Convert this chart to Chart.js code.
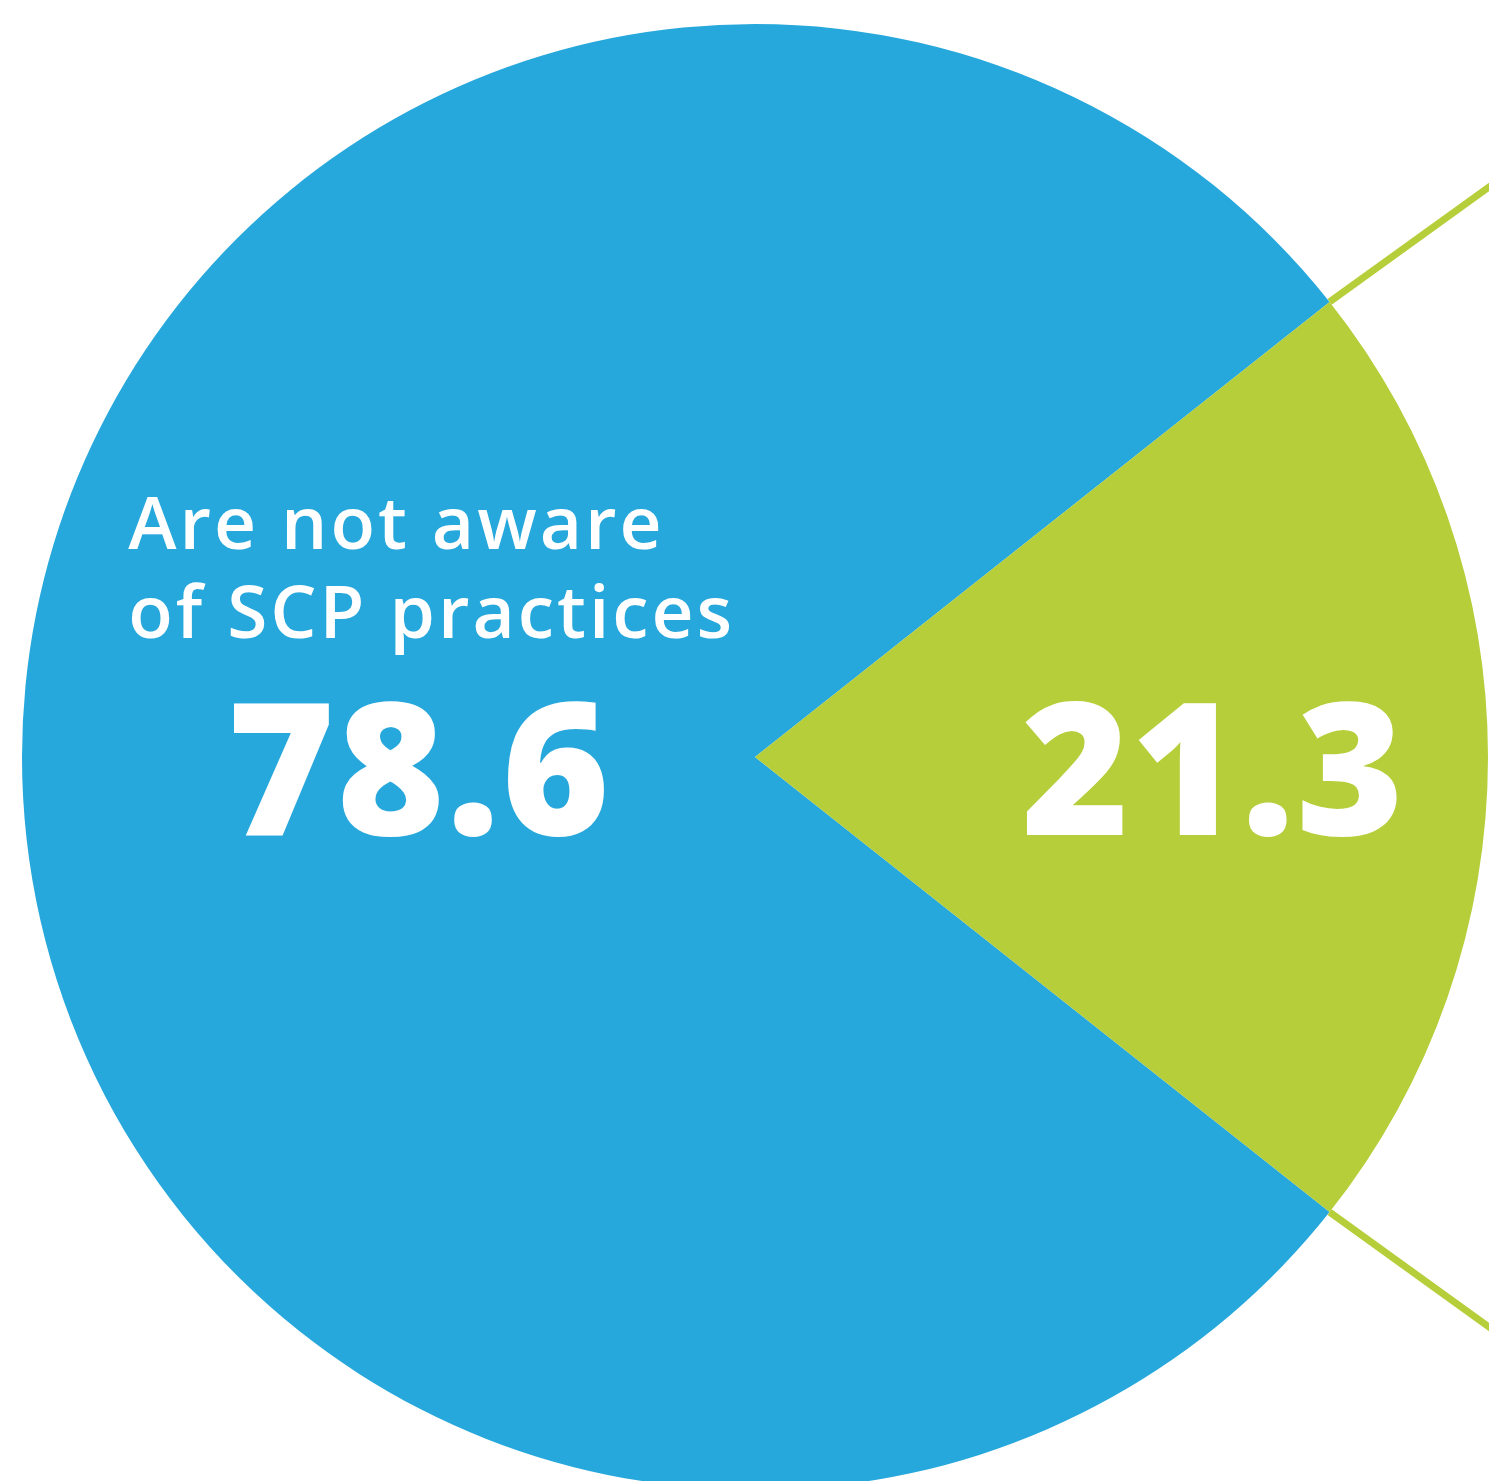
<!DOCTYPE html>
<html>
<head>
<meta charset="utf-8">
<script src="https://cdn.jsdelivr.net/npm/chart.js@4"></script>
<style>
  html, body { margin: 0; padding: 0; background: #fff; overflow: hidden; }
  #wrap { position: absolute; left: 0; top: 0; width: 1489px; height: 1520px; }
</style>
</head>
<body>
<div id="wrap"><canvas id="pie"></canvas></div>
<script>
// Data
const labels = ['Are not aware of SCP practices', 'Are aware of SCP practices'];
const values = [78.6, 21.3];
const colors = ['#27a8dc', '#b5ce39'];
const captions = [['Are not aware', 'of SCP practices'], []];

// rotate so the small slice is centred on the right side
const total = values.reduce((a, b) => a + b, 0);
const blueDeg = values[0] / total * 360;
const greenDeg = values[1] / total * 360;
const rotation = 90 - blueDeg - greenDeg / 2;

// labels + leader lines drawn from the arc geometry
const piePlugin = {
  id: 'pieDecor',
  afterDatasetsDraw(chart) {
    const ctx = chart.ctx;
    const arcs = chart.getDatasetMeta(0).data;

    // green lines running out from the outer corners of the small slice
    const g = arcs[1];
    ctx.save();
    ctx.strokeStyle = colors[1];
    ctx.lineWidth = 7;
    [g.startAngle, g.endAngle].forEach((a, i) => {
      const x0 = g.x + Math.cos(a) * g.outerRadius;
      const y0 = g.y + Math.sin(a) * g.outerRadius;
      const dir = a + (i === 0 ? 0.045 : -0.045);
      const len = 400;
      ctx.beginPath();
      ctx.moveTo(x0, y0);
      ctx.lineTo(x0 + Math.cos(dir) * len, y0 + Math.sin(dir) * len);
      ctx.stroke();
    });
    ctx.restore();

    ctx.save();
    ctx.fillStyle = '#fff';
    const fracs = [0.458, 0.626];
    arcs.forEach((arc, i) => {
      const mid = (arc.startAngle + arc.endAngle) / 2;
      const r = arc.outerRadius;
      const x = arc.x + Math.cos(mid) * r * fracs[i];
      const y = arc.y + Math.sin(mid) * r * fracs[i];
      ctx.font = '800 184px "Open Sans", sans-serif';
      ctx.textAlign = 'center';
      ctx.textBaseline = 'alphabetic';
      ctx.letterSpacing = '2px';
      ctx.fillText(values[i].toFixed(1), x, y + 78);

      ctx.font = '600 73px "Open Sans", sans-serif';
      ctx.textAlign = 'left';
      ctx.letterSpacing = '3px';
      captions[i].forEach((line, j) => {
        ctx.fillText(line, arc.x - r * 0.855, y - 208 + j * 89);
      });
    });
    ctx.restore();
  }
};

new Chart(document.getElementById('pie'), {
  type: 'pie',
  data: {
    labels: labels,
    datasets: [{
      data: values,
      backgroundColor: colors,
      borderWidth: 0,
      hoverOffset: 0
    }]
  },
  options: {
    responsive: true,
    maintainAspectRatio: false,
    animation: false,
    rotation: rotation,
    layout: { padding: { left: 22, right: 1, top: 24, bottom: 30 } },
    plugins: {
      legend: { display: false },
      tooltip: { enabled: false }
    }
  },
  plugins: [piePlugin]
});
</script>
</body>
</html>
